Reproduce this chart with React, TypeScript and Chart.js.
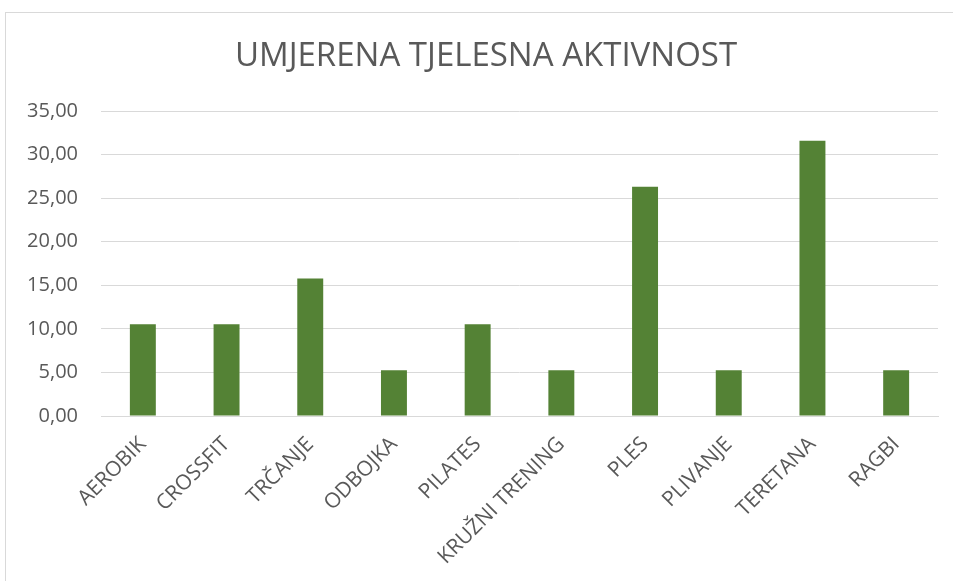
import React, { useEffect, useRef } from "react";
import { Chart, registerables } from "chart.js";

Chart.register(...registerables);

const TITLE = "UMJERENA TJELESNA AKTIVNOST";
const categories = [
  "AEROBIK",
  "CROSSFIT",
  "TRČANJE",
  "ODBOJKA",
  "PILATES",
  "KRUŽNI TRENING",
  "PLES",
  "PLIVANJE",
  "TERETANA",
  "RAGBI",
];
const values = [10.53, 10.53, 15.79, 5.26, 10.53, 5.26, 26.32, 5.26, 31.58, 5.26];
const yTicks = [0, 5, 10, 15, 20, 25, 30, 35];

const FONT = "'Open Sans', 'Noto Sans', sans-serif";
const TEXT = "#595959";

export default function App() {
  const ref = useRef<HTMLCanvasElement>(null);
  useEffect(() => {
    if (!ref.current) return;
    const titlePlugin = {
      id: "customTitle",
      afterDraw(chart: any) {
        const ctx = chart.ctx;
        ctx.save();
        ctx.fillStyle = TEXT;
        ctx.font = `33px ${FONT}`;
        ctx.textAlign = "center";
        ctx.textBaseline = "middle";
        ctx.fillText(TITLE, 486, 57);
        ctx.restore();
      },
    };
    const chart = new Chart(ref.current, {
      type: "bar",
      data: {
        labels: categories,
        datasets: [
          {
            data: values,
            backgroundColor: "#548235",
            borderWidth: 0,
            categoryPercentage: 1,
            barPercentage: 0.31,
          },
        ],
      },
      plugins: [titlePlugin],
      options: {
        animation: false,
        responsive: false,
        maintainAspectRatio: false,
        layout: { padding: { top: 111, right: 15, bottom: 0, left: 0 } },
        plugins: {
          legend: { display: false },
          title: { display: false },
          tooltip: { enabled: false },
        },
        scales: {
          x: {
            grid: { display: false, drawTicks: false },
            border: { display: true, color: "#d9d9d9", width: 1 },
            ticks: {
              color: TEXT,
              font: { family: FONT, size: 21 },
              minRotation: 45,
              maxRotation: 45,
              padding: 16,
              autoSkip: false,
            },
            afterFit(scale: any) {
              scale.height = 165;
            },
          },
          y: {
            min: 0,
            max: 35,
            afterBuildTicks(scale: any) {
              scale.ticks = yTicks.map((v) => ({ value: v }));
            },
            grid: { color: "#d9d9d9", drawTicks: false, lineWidth: 1 },
            border: { display: false },
            ticks: {
              color: TEXT,
              font: { family: FONT, size: 20 },
              padding: 23,
              callback: (v: any) => Number(v).toFixed(2).replace(".", ","),
            },
            afterFit(scale: any) {
              scale.width = 101;
            },
          },
        },
      },
    });
    return () => chart.destroy();
  }, []);
  return (
    <div style={{ position: "fixed", left: 0, top: 0, width: 953, height: 581, background: "#fff", overflow: "hidden" }}>
      <div
        style={{
          position: "absolute",
          left: 5,
          top: 12,
          width: 1000,
          height: 1000,
          border: "1px solid #d9d9d9",
          boxSizing: "border-box",
        }}
      />
      <canvas ref={ref} width={953} height={581} style={{ position: "absolute", left: 0, top: 0 }} />
    </div>
  );
}
